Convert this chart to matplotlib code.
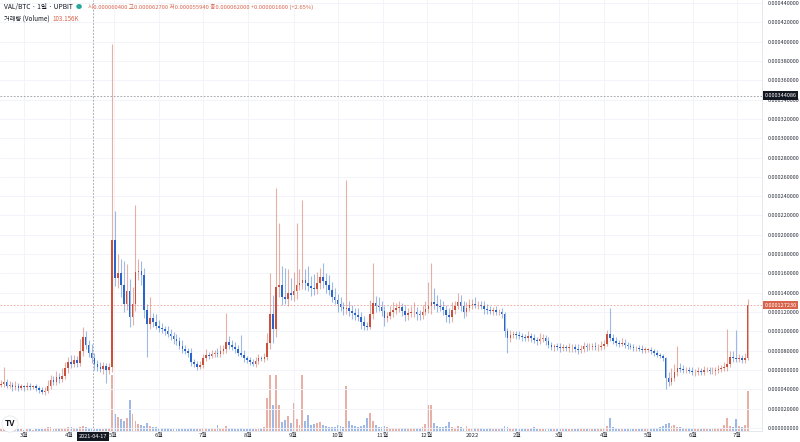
import numpy as np
import matplotlib.pyplot as plt
import matplotlib.dates as mdates
import matplotlib.transforms as mtransforms

plt.rcParams['font.family'] = ['Noto Sans CJK KR', 'DejaVu Sans']

# VAL/BTC, 2-day candles starting 2021-02-13, prices in 1e-6 BTC
close = [
    46, 48, 44, 45, 42, 44, 41, 43, 42, 44,
    42, 43, 41, 39, 37, 38, 44, 50, 48, 53,
    51, 54, 62, 68, 66, 70, 67, 80, 94, 86,
    78, 72, 66, 63, 61, 64, 60, 63, 195, 155,
    160, 148, 128, 142, 115, 128, 162, 163, 158, 122,
    108, 114, 110, 106, 104, 102, 100, 97, 95, 92,
    90, 85, 82, 80, 78, 68, 66, 63, 65, 72,
    76, 75, 77, 78, 77, 80, 82, 89, 86, 84,
    82, 78, 76, 72, 70, 68, 66, 69, 72, 71,
    74, 88, 118, 102, 146, 148, 136, 134, 140, 138,
    142, 148, 150, 153, 150, 147, 145, 144, 150, 156,
    152, 148, 143, 136, 133, 128, 125, 123, 124, 121,
    119, 117, 115, 110, 106, 105, 118, 129, 126, 125,
    121, 114, 116, 120, 122, 124, 125, 121, 117, 119,
    120, 120, 118, 117, 120, 123, 126, 130, 128, 126,
    125, 122, 117, 115, 122, 126, 130, 126, 120, 124,
    127, 128, 127, 127, 126, 123, 122, 121, 122, 120,
    120, 118, 100, 93, 96, 97, 96, 95, 94, 93,
    95, 93, 91, 90, 92, 93, 90, 86, 84, 85,
    84, 83, 84, 83, 84, 84, 82, 81, 82, 85,
    84, 84, 85, 84, 84, 85, 87, 97, 93, 90,
    88, 87, 88, 86, 85, 84, 83, 83, 82, 81,
    81, 81, 80, 78, 76, 75, 72, 52, 48, 52,
    58, 62, 61, 60, 60, 59, 58, 58, 59, 58,
    60, 60, 59, 59, 60, 61, 62, 63, 66, 74,
    72, 71, 72, 70, 72, 127,
]
first_open = 45

# wick length above body top / below body bottom (1e-6 BTC)
wick_up = [
    4, 15, 3, 4, 3, 5, 3, 3, 2, 4,
    3, 2, 3, 2, 3, 4, 6, 5, 4, 6,
    4, 8, 6, 5, 8, 6, 5, 12, 11, 6,
    5, 9, 6, 4, 5, 4, 3, 4, 203, 30,
    20, 15, 25, 28, 12, 18, 69, 12, 10, 8,
    6, 22, 5, 8, 6, 5, 4, 6, 5, 4,
    5, 4, 6, 4, 3, 5, 3, 3, 4, 5,
    6, 3, 4, 3, 5, 6, 4, 30, 6, 5,
    5, 4, 18, 5, 3, 4, 3, 4, 5, 3,
    4, 10, 42, 20, 102, 64, 20, 30, 25, 15,
    20, 64, 15, 83, 12, 18, 10, 14, 12, 10,
    15, 8, 10, 8, 9, 6, 8, 5, 133, 8,
    6, 5, 7, 5, 6, 4, 15, 42, 8, 10,
    6, 5, 4, 6, 8, 5, 7, 4, 6, 5,
    6, 10, 5, 4, 7, 8, 25, 41, 15, 10,
    8, 6, 5, 7, 8, 6, 10, 8, 5, 6,
    7, 6, 8, 5, 4, 6, 5, 4, 3, 4,
    3, 4, 2, 4, 5, 3, 3, 4, 3, 3,
    5, 3, 4, 3, 6, 4, 3, 4, 3, 2,
    3, 4, 3, 2, 4, 3, 3, 5, 4, 4,
    3, 4, 3, 4, 3, 5, 4, 4, 27, 4,
    4, 3, 5, 4, 3, 3, 3, 2, 3, 4,
    3, 2, 3, 2, 3, 2, 2, 2, 6, 10,
    8, 23, 5, 4, 3, 3, 4, 3, 4, 3,
    4, 3, 3, 4, 3, 4, 3, 5, 36, 6,
    6, 29, 5, 4, 6, 7,
]
wick_dn = [
    3, 4, 3, 3, 4, 3, 3, 2, 4, 3,
    3, 2, 3, 3, 2, 3, 2, 4, 3, 3,
    4, 3, 3, 5, 4, 3, 4, 3, 5, 4,
    4, 5, 6, 4, 3, 5, 13, 4, 5, 8,
    10, 12, 8, 6, 10, 8, 7, 9, 10, 8,
    35, 6, 5, 4, 5, 4, 4, 3, 4, 5,
    4, 3, 4, 3, 5, 4, 3, 3, 2, 3,
    3, 4, 3, 3, 4, 3, 3, 4, 4, 3,
    4, 3, 3, 4, 3, 3, 2, 3, 3, 2,
    3, 4, 6, 14, 8, 10, 9, 6, 8, 5,
    6, 8, 5, 6, 7, 5, 8, 6, 5, 6,
    7, 8, 5, 6, 5, 8, 4, 6, 5, 5,
    6, 5, 4, 8, 5, 4, 3, 5, 6, 4,
    5, 8, 4, 3, 5, 4, 4, 5, 6, 5,
    4, 5, 6, 5, 4, 3, 4, 8, 5, 6,
    4, 5, 7, 6, 5, 4, 3, 5, 6, 4,
    3, 4, 3, 4, 3, 5, 4, 3, 4, 3,
    3, 4, 6, 15, 4, 3, 4, 3, 4, 3,
    3, 4, 3, 4, 3, 3, 4, 3, 3, 4,
    3, 4, 3, 3, 4, 5, 3, 4, 3, 3,
    4, 3, 3, 3, 4, 3, 3, 2, 3, 3,
    3, 3, 2, 3, 3, 2, 3, 3, 2, 3,
    3, 2, 3, 3, 2, 3, 3, 12, 4, 3,
    3, 4, 3, 3, 3, 2, 3, 4, 3, 3,
    3, 2, 3, 3, 4, 3, 3, 3, 4, 3,
    4, 3, 3, 3, 3, 2,
]
# volume in thousands
volume_k = [
    100, 150, 80, 100, 120, 90, 80, 100, 70, 90,
    80, 60, 90, 110, 100, 150, 200, 180, 120, 150,
    130, 170, 150, 200, 180, 150, 140, 220, 250, 190,
    160, 130, 120, 100, 103, 110, 130, 150, 2800, 850,
    700, 600, 500, 650, 1550, 850, 500, 350, 300, 250,
    400, 250, 200, 180, 150, 160, 140, 130, 120, 110,
    100, 120, 110, 100, 90, 130, 120, 100, 110, 150,
    140, 120, 130, 110, 300, 150, 130, 250, 160, 140,
    120, 100, 150, 110, 100, 90, 100, 110, 150, 130,
    200, 1650, 2800, 1300, 2800, 1300, 450, 550, 750, 400,
    1400, 600, 300, 2800, 500, 800, 300, 350, 400, 450,
    300, 250, 200, 180, 220, 300, 250, 200, 2250, 500,
    300, 250, 200, 250, 300, 650, 900, 500, 300, 200,
    200, 250, 180, 150, 160, 140, 150, 170, 160, 150,
    140, 160, 150, 170, 200, 350, 1300, 1300, 400, 250,
    200, 180, 250, 450, 200, 150, 250, 180, 160, 250,
    160, 140, 150, 130, 140, 120, 110, 130, 120, 100,
    110, 130, 250, 200, 150, 120, 140, 110, 100, 120,
    110, 130, 200, 120, 110, 100, 90, 120, 110, 100,
    90, 100, 110, 90, 100, 120, 110, 100, 90, 110,
    100, 110, 90, 100, 110, 120, 150, 250, 650, 200,
    150, 120, 110, 100, 110, 100, 90, 100, 110, 120,
    100, 110, 120, 150, 130, 200, 250, 350, 400, 250,
    300, 200, 180, 150, 140, 130, 120, 130, 110, 120,
    130, 120, 110, 130, 150, 140, 160, 300, 650, 250,
    200, 600, 250, 200, 300, 2000,
]

month_ticks = ['2021-03-01', '2021-04-01', '2021-05-01', '2021-06-01', '2021-07-01',
               '2021-08-01', '2021-09-01', '2021-10-01', '2021-11-01', '2021-12-01',
               '2022-01-01', '2022-02-01', '2022-03-01', '2022-04-01', '2022-05-01',
               '2022-06-01', '2022-07-01']
month_labels = ['3월', '4월', '5월', '6월', '7월', '8월', '9월', '10월', '11월', '12월',
                '2022', '2월', '3월', '4월', '5월', '6월', '7월']

crosshair_date = '2021-04-17'
crosshair_price = 0.000344086
last_price = 0.00012723

UP = '#c8503c'
DOWN = '#2a64c8'

scale = 1e-6
c = np.array(close) * scale
o = np.array([first_open] + close[:-1]) * scale
top = np.maximum(o, c)
bot = np.minimum(o, c)
hi = top + np.array(wick_up) * scale
lo = bot - np.array(wick_dn) * scale
up = c >= o
colors = np.where(up, UP, DOWN)

x0 = mdates.date2num(np.datetime64('2021-02-13'))
x = x0 + 2 * np.arange(len(close))

fig = plt.figure(figsize=(8, 4.42), dpi=100)
ax = fig.add_axes([0, 11 / 442, 762 / 800, 431 / 442])
axv = ax.twinx()
ax.set_zorder(axv.get_zorder() + 1)
ax.patch.set_visible(False)

# volume
axv.bar(x, volume_k, width=1.3, color=colors, alpha=0.45, linewidth=0)
axv.set_ylim(0, 431 * 50)
axv.set_yticks([])
for s in axv.spines.values():
    s.set_visible(False)

# candles
ax.vlines(x, lo, hi, colors=colors, linewidth=0.8, alpha=0.45)
ax.bar(x, np.maximum(top - bot, 0.3e-6), bottom=bot, width=1.1, color=colors, linewidth=0)

ax.set_ylim(-3.1e-6, 4.431e-4)
ax.set_xlim(x0 - 0.5, x0 + 519.8)

yt = np.arange(0, 0.000441, 0.00002)
ax.yaxis.tick_right()
ax.set_yticks(yt)
ax.set_yticklabels(['%.9f' % v for v in yt])
ax.tick_params(axis='y', length=0, labelsize=4, labelcolor='#2a2e39', pad=4)

ax.set_xticks([mdates.date2num(np.datetime64(d)) for d in month_ticks])
ax.set_xticklabels(month_labels)
ax.tick_params(axis='x', length=0, labelsize=4.3, labelcolor='#2a2e39', pad=1.5)

ax.grid(color='#f0f3fa', linewidth=0.6)
ax.set_axisbelow(True)
for k in ['top', 'left']:
    ax.spines[k].set_visible(False)
ax.spines['right'].set_color('#e0e3eb')
ax.spines['bottom'].set_color('#e0e3eb')
ax.spines['right'].set_linewidth(0.6)
ax.spines['bottom'].set_linewidth(0.6)

# crosshair
xc = mdates.date2num(np.datetime64(crosshair_date))
ax.axvline(xc, color='#9598a1', linewidth=0.6, dashes=(2, 2))
ax.axhline(crosshair_price, color='#9598a1', linewidth=0.6, dashes=(2, 2))
ax.axhline(last_price, color='#d9644c', linewidth=0.6, dashes=(2, 2), alpha=0.6)

tr_y = mtransforms.blended_transform_factory(ax.transAxes, ax.transData)
tr_x = mtransforms.blended_transform_factory(ax.transData, ax.transAxes)
ax.text(1.003, crosshair_price, '%.9f' % crosshair_price, transform=tr_y, fontsize=4,
        color='white', va='center', ha='left',
        bbox=dict(boxstyle='square,pad=0.3', fc='#131722', ec='none'))
ax.text(1.003, last_price, '%.9f' % last_price, transform=tr_y, fontsize=4,
        color='white', va='center', ha='left',
        bbox=dict(boxstyle='square,pad=0.3', fc='#d9644c', ec='none'))
ax.text(xc, -0.006, crosshair_date, transform=tr_x, fontsize=4, color='white',
        va='top', ha='center', clip_on=False,
        bbox=dict(boxstyle='square,pad=0.35', fc='#131722', ec='none'))

# legend text
fig.text(4 / 800, 1 - 7 / 442, 'VAL/BTC · 1일 · UPBIT', fontsize=4.8, color='#131722', va='center')
fig.text(76 / 800, 1 - 7 / 442, '●', fontsize=4.5, color='#26a69a', va='center')
fig.text(88 / 800, 1 - 7 / 442,
         '시0.000060400 고0.000062700 저0.000055940 종0.000062000 +0.000001600 (+2.65%)',
         fontsize=4.2, color='#d9644c', va='center')
fig.text(4 / 800, 1 - 19 / 442, '거래량 (Volume)', fontsize=4.5, color='#131722', va='center')
fig.text(52 / 800, 1 - 19 / 442, '103.156K', fontsize=4.5, color='#d9644c', va='center')

fig.text(10 / 800, 1 - 424 / 442, 'TV', fontsize=6, weight='bold', color='#131722',
         ha='center', va='center',
         bbox=dict(boxstyle='circle,pad=0.35', fc='white', ec='#e0e3eb', lw=0.5))

plt.savefig('out.png', dpi=100)
